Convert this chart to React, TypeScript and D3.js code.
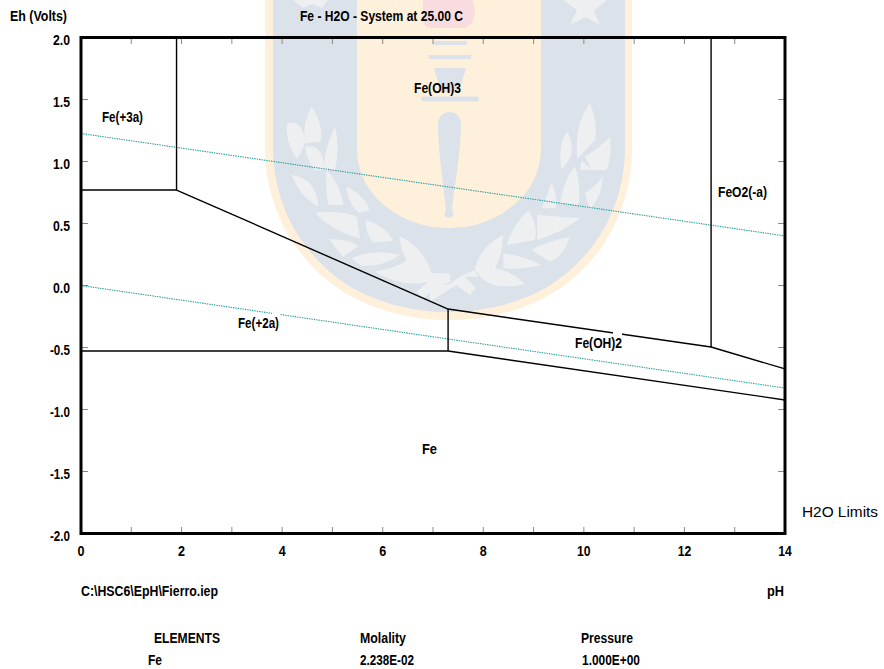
import React from "react";
import * as d3 from "d3";

const phTicks = d3.range(0, 15);
const phLabelTicks = [0, 2, 4, 6, 8, 10, 12, 14];
const ehTicks = [2.0, 1.5, 1.0, 0.5, 0.0, -0.5, -1.0, -1.5, -2.0];

// Stability-field boundaries, [pH, Eh]
const fe3Box: [number, number][] = [[0, 0.77], [1.9, 0.77], [1.9, 2.0]];
const fe3ToFe2: [number, number][] = [[1.9, 0.77], [7.3, -0.19]];
const fe2Floor: [number, number][] = [[0, -0.528], [7.3, -0.528]];
const fe2Wall: [number, number][] = [[7.3, -0.19], [7.3, -0.528]];
const feOH2Top: [number, number][] = [[7.3, -0.19], [12.53, -0.496], [14, -0.673]];
const feOH2Bottom: [number, number][] = [[7.3, -0.528], [14, -0.923]];
const feO2Wall: [number, number][] = [[12.53, 2.0], [12.53, -0.496]];
const boundaries = [fe3Box, fe3ToFe2, fe2Floor, fe2Wall, feOH2Top, feOH2Bottom, feO2Wall];

// Water stability limits
const o2Limit: [number, number][] = [[0, 1.226], [14, 0.4]];
const h2Limit: [number, number][] = [[0, 0.0], [14, -0.827]];

type T = [string, number, number, number];
const fieldLabels: T[] = [
  ["Fe(+3a)", 102, 121.5, 41],
  ["Fe(OH)3", 414, 92.5, 47],
  ["FeO2(-a)", 718, 197, 49],
  ["Fe(+2a)", 238, 328, 41],
  ["Fe(OH)2", 575, 348, 47],
  ["Fe", 422, 454, 15],
];
const headerLabels: T[] = [
  ["Eh (Volts)", 10, 20.5, 57],
  ["Fe - H2O - System at 25.00 C", 300, 20.5, 163],
  ["C:\\HSC6\\EpH\\Fierro.iep", 81, 596, 137],
  ["pH", 767, 596, 17],
  ["ELEMENTS", 154, 643, 66],
  ["Molality", 360, 643, 46],
  ["Pressure", 581, 643, 52],
  ["Fe", 148, 665, 14],
  ["2.238E-02", 360, 665, 54],
  ["1.000E+00", 582, 665, 58],
];

const W = 884, H = 669;
const x = d3.scaleLinear().domain([0, 14]).range([81, 785]);
const y = d3.scaleLinear().domain([-2, 2]).range([533.5, 37.5]);
const line = d3.line<[number, number]>().x(d => x(d[0])).y(d => y(d[1]));
const FONT = "'Liberation Sans', Arial, sans-serif";

const BLUE = "#dbe2ea", CREAM = "#fef0da", LEAF = "#eeeff1", PINK = "#f9dce0";

function Crest() {
  return (
    <g>
      <path d="M265,0 L265,150 C266,215 300,265 345,293 C380,313 415,320 449,320 C483,320 518,313 553,293 C598,265 631,215 632,150 L632,0 Z" fill={CREAM} />
      <path d="M273,0 L273,150 C274,210 305,258 349,286 C382,305 416,312 449,312 C482,312 516,305 549,286 C593,258 624,210 625,150 L625,0 Z" fill={BLUE} />
      <path d="M357,0 L357,150 C358,178 372,198 395,213 C412,224 432,228 449,228 C466,228 486,224 503,213 C526,198 540,178 541,150 L541,0 Z" fill={CREAM} />
      {/* flame and torch */}
      <path d="M423,0 L423,20 Q424,28 432,28 L465,28 Q475,24 475,10 L473,0 Z" fill={PINK} />
      <g fill={BLUE}>
        <rect x="433" y="41" width="34" height="4" />
        <rect x="429" y="55" width="42" height="4" />
        <path d="M434,68 L466,68 L459,92 L441,92 Z" />
        <rect x="421" y="96.5" width="58" height="5" rx="2.5" />
        <path d="M438,124 C438,108 461,108 461,124 C461,150 454,190 452,210 A4.5,4.5 0 1 1 446,210 C444,190 438,150 438,124 Z" />
      </g>
      {/* stars */}
      <g fill={LEAF}>
        <path d="M563,0 L577,10 L570,25 L585,17 L600,25 L594,11 L607,0 Z" />
        <path d="M293,0 L303,8 L312,4 L322,8 L328,0 Z" />
      </g>
      {/* wreath, right side */}
      <g fill={LEAF} transform="translate(450,160) scale(0.3333)">
        <path d="M235,152 Q265,190 255,240 L170,255 Q190,190 235,152 Z" />
        <path d="M262,165 L392,175 Q330,220 262,240 Z" />
        <path d="M360,232 Q340,290 300,305 L243,270 Q300,240 360,232 Z" />
        <path d="M160,280 Q230,290 272,315 Q210,330 160,325 Z" />
        <path d="M75,325 Q90,260 158,225 Q160,280 135,325 Q190,335 225,372 Q150,390 110,365 Q85,350 75,325 Z" />
        <path d="M-60,380 L0,372 Q30,345 75,330 L85,350 L45,350 L78,385 L60,405 L20,375 Q-20,400 -60,425 Z" />
        <path d="M275,145 Q295,95 305,68 Q322,100 318,145 Z" />
        <path d="M330,130 Q340,60 375,18 Q395,80 385,135 Z" />
        <path d="M405,100 Q450,70 458,45 Q460,100 420,150 Z" />
      </g>
      <g fill={LEAF} transform="translate(450,0) scale(0.3333)">
        <path d="M420,310 Q445,370 435,420 L382,478 Q372,370 420,310 Z" />
        <path d="M352,395 Q372,430 362,470 L335,510 Q322,430 352,395 Z" />
        <path d="M480,410 Q488,460 470,510 L425,510 L405,470 Q445,445 480,410 Z" />
        <path d="M395,480 L425,510 L390,510 Z" />
      </g>
      {/* wreath, left side */}
      <g fill={LEAF} transform="translate(260,160) scale(0.3333)">
        <path d="M95,45 Q170,55 175,140 Q120,110 95,45 Z" />
        <path d="M200,30 Q240,70 250,135 L205,135 Q195,80 200,30 Z" />
        <path d="M260,80 Q320,110 328,152 L295,158 Q260,120 260,80 Z" />
        <path d="M165,158 Q250,150 290,170 L300,235 Q210,210 165,158 Z" />
        <path d="M318,180 Q380,200 400,243 L340,248 Q315,220 318,180 Z" />
        <path d="M208,238 Q260,235 295,258 L250,290 Q225,265 208,238 Z" />
        <path d="M275,295 Q340,265 420,285 Q370,320 310,318 Q285,310 275,295 Z" />
        <path d="M418,228 Q490,260 515,340 Q560,335 570,345 L570,365 Q530,380 490,415 L470,395 L505,365 Q430,385 345,335 Q420,320 440,300 Q420,260 418,228 Z" />
      </g>
      <g fill={LEAF} transform="translate(260,0) scale(0.3333)">
        <path d="M155,320 Q190,370 182,425 L135,430 Q125,370 155,320 Z" />
        <path d="M82,370 Q130,355 135,430 L112,478 Q75,430 82,370 Z" />
        <path d="M225,380 Q240,440 225,510 L195,510 Q190,470 205,430 Z" />
        <path d="M135,440 Q190,430 195,510 L165,510 Q140,480 135,440 Z" />
      </g>
    </g>
  );
}

export default function App() {
  const Txt = ({ t }: { t: T }) => (
    <text x={t[1]} y={t[2]} textLength={t[3]} lengthAdjust="spacingAndGlyphs"
      fontFamily={FONT} fontWeight="bold" fontSize={14} fill="#000">{t[0]}</text>
  );
  return (
    <svg width={W} height={H} viewBox={`0 0 ${W} ${H}`} style={{ position: "absolute", left: 0, top: 0, background: "#fff" }}>
      <Crest />

      {/* ticks */}
      <g stroke="#8a8a8a" strokeWidth={1}>
        {phTicks.map(p => (
          <g key={p}>
            <line x1={x(p)} x2={x(p)} y1={y(2)} y2={y(2) + 6.5} />
            <line x1={x(p)} x2={x(p)} y1={y(-2)} y2={y(-2) - 6.5} />
          </g>
        ))}
        {ehTicks.map(e => (
          <g key={e}>
            <line x1={x(0)} x2={x(0) + 7} y1={y(e)} y2={y(e)} />
            <line x1={x(14)} x2={x(14) - 7} y1={y(e)} y2={y(e)} />
          </g>
        ))}
      </g>

      {/* water limits */}
      {[o2Limit, h2Limit].map((l, i) => (
        <path key={i} d={line(l) ?? ""} fill="none" stroke="#2a9e9e" strokeWidth={1.1} strokeDasharray="1.4 1" />
      ))}

      {/* boundaries */}
      {boundaries.map((l, i) => (
        <path key={i} d={line(l) ?? ""} fill="none" stroke="#000" strokeWidth={1.4} strokeLinejoin="round" />
      ))}

      {/* gaps left by the label boxes */}
      <rect x={272} y={309} width={8} height={10} fill="#fff" />
      <rect x={613} y={328} width={9} height={9} fill="#fff" />

      {/* frame */}
      <rect x={x(0)} y={y(2)} width={x(14) - x(0)} height={y(-2) - y(2)} fill="none" stroke="#000" strokeWidth={3} />

      {/* axis labels */}
      <g fontFamily={FONT} fontWeight="bold" fontSize={14} fill="#000">
        {ehTicks.map(e => (
          <text key={e} x={70} y={y(e) + 7.5} textAnchor="end"
            textLength={e < 0 ? 20 : 17} lengthAdjust="spacingAndGlyphs">{e.toFixed(1)}</text>
        ))}
        {phLabelTicks.map(p => (
          <text key={p} x={x(p)} y={556} textAnchor="middle"
            textLength={p >= 10 ? 13.5 : 7} lengthAdjust="spacingAndGlyphs">{p}</text>
        ))}
      </g>

      {fieldLabels.map(t => <Txt key={t[0]} t={t} />)}
      {headerLabels.map((t, i) => <Txt key={i} t={t} />)}

      <text x={802} y={516.5} textLength={76} lengthAdjust="spacingAndGlyphs"
        fontFamily={FONT} fontSize={15} fill="#000">H2O Limits</text>
    </svg>
  );
}
